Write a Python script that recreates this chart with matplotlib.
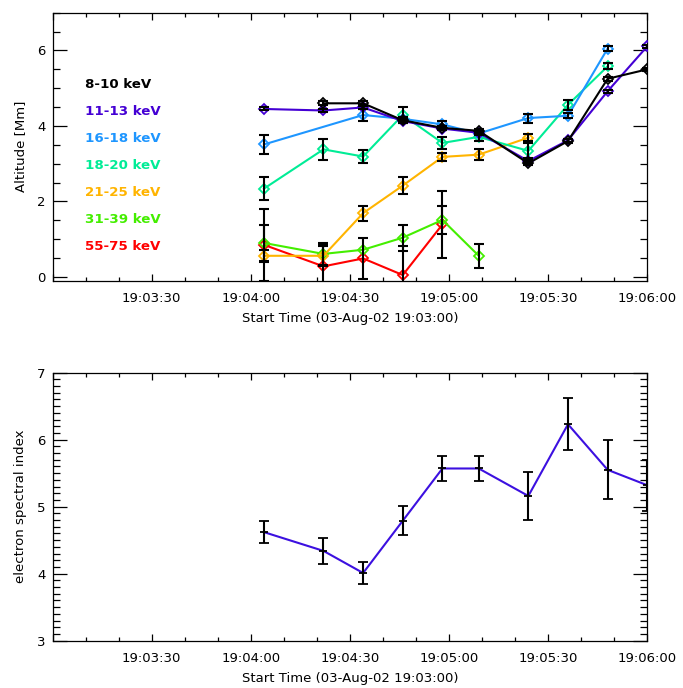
import numpy as np
import matplotlib
matplotlib.use('Agg')
import matplotlib.pyplot as plt
from matplotlib.ticker import MultipleLocator, FuncFormatter

nan = np.nan

# seconds after 19:03:00
t_sec = [64, 82, 94, 106, 118, 129, 144, 156, 168, 180]

bands = ['8-10 keV', '11-13 keV', '16-18 keV', '18-20 keV',
         '21-25 keV', '31-39 keV', '55-75 keV']
band_colors = ['#000000', '#4400d4', '#1e96ff', '#00ec96',
               '#ffb400', '#44ee00', '#ff0000']

h_8_10 = [nan, 4.60, 4.60, 4.15, 3.95, 3.87, 3.01, 3.60, 5.25, 5.50]
e_8_10 = [nan, 0.05, 0.05, 0.05, 0.05, 0.05, 0.05, 0.05, 0.05, 0.04]
h_11_13 = [4.45, 4.41, 4.49, 4.13, 3.93, 3.82, 3.07, 3.62, 4.92, 6.11]
e_11_13 = [0.04, 0.04, 0.04, 0.04, 0.04, 0.04, 0.04, 0.04, 0.04, 0.04]
h_16_18 = [3.51, nan, 4.29, 4.19, 4.04, 3.80, 4.21, 4.27, 6.05, nan]
e_16_18 = [0.24, nan, 0.15, 0.05, 0.10, 0.05, 0.12, 0.07, 0.06, nan]
h_18_20 = [2.34, 3.38, 3.19, 4.29, 3.55, 3.71, 3.34, 4.56, 5.58, nan]
e_18_20 = [0.31, 0.27, 0.18, 0.20, 0.15, 0.10, 0.20, 0.14, 0.08, nan]
h_21_25 = [0.56, 0.56, 1.69, 2.42, 3.18, 3.24, 3.69, nan, nan, nan]
e_21_25 = [0.16, 0.27, 0.20, 0.22, 0.10, 0.14, 0.10, nan, nan, nan]
h_31_39 = [0.90, 0.61, 0.72, 1.04, 1.51, 0.56, nan, nan, nan, nan]
e_31_39 = [0.48, 0.30, nan, 0.34, 0.38, 0.32, nan, nan, nan, nan]
h_55_75 = [0.85, 0.28, 0.49, 0.05, 1.39, nan, nan, nan, nan, nan]
e_55_75 = [0.95, 0.60, 0.54, 0.78, 0.88, nan, nan, nan, nan, nan]

spec_index = [4.62, 4.34, 4.01, 4.79, 5.57, 5.57, 5.16, 6.23, 5.55, 5.32]
spec_err = [0.16, 0.19, 0.16, 0.22, 0.19, 0.18, 0.36, 0.39, 0.44, 0.38]

XLABEL = 'Start Time (03-Aug-02 19:03:00)'


def time_fmt(x, pos):
    if x <= 0:
        return ''
    s = int(round(x))
    return f'19:{3 + s // 60:02d}:{s % 60:02d}'


def style_axis(ax, ymajor, yminor):
    ax.set_xlim(0, 180)
    ax.xaxis.set_major_locator(MultipleLocator(30))
    ax.xaxis.set_minor_locator(MultipleLocator(10))
    ax.xaxis.set_major_formatter(FuncFormatter(time_fmt))
    ax.yaxis.set_major_locator(MultipleLocator(ymajor))
    ax.yaxis.set_minor_locator(MultipleLocator(yminor))
    ax.tick_params(which='both', direction='in', top=True, right=True,
                   labelsize=9.5, width=0.9)
    ax.tick_params(axis='x', which='major', length=5, pad=8)
    ax.tick_params(axis='x', which='minor', length=3)
    ax.tick_params(axis='y', which='major', length=10, pad=5)
    ax.tick_params(axis='y', which='minor', length=5)
    for sp in ax.spines.values():
        sp.set_linewidth(0.9)
    ax.set_xlabel(XLABEL, fontsize=9.5, labelpad=5)


def plot_altitude(ax):
    heights = [h_8_10, h_11_13, h_16_18, h_18_20, h_21_25, h_31_39, h_55_75]
    errors = [e_8_10, e_11_13, e_16_18, e_18_20, e_21_25, e_31_39, e_55_75]
    t = np.array(t_sec, dtype=float)
    # draw lower energies last so they sit on top like the original
    for i in reversed(range(len(bands))):
        h = np.array(heights[i])
        e = np.array(errors[i])
        ok = ~np.isnan(h)
        ax.plot(t[ok], h[ok], '-', color=band_colors[i], lw=1.5,
                marker='D', ms=5, mfc='none', mew=1.3, zorder=3)
        ek = ok & ~np.isnan(e)
        ax.errorbar(t[ek], h[ek], yerr=e[ek], fmt='none', ecolor='k',
                    elinewidth=1.5, capsize=3.3, capthick=1.5, zorder=4)
    for i, name in enumerate(bands):
        ax.text(0.055, 0.734 - i * 0.101, name, transform=ax.transAxes,
                color=band_colors[i], fontsize=9.6, fontweight='bold',
                va='center', ha='left')
    ax.set_ylim(-0.1, 7.0)
    style_axis(ax, 2, 0.5)
    ax.set_ylabel('Altitude [Mm]', fontsize=9.5, labelpad=7)


def plot_index(ax):
    ax.plot(t_sec, spec_index, '-', color='#3c10e0', lw=1.5, zorder=3)
    ax.errorbar(t_sec, spec_index, yerr=spec_err, fmt='+', color='k',
                ms=6, mew=1.3, elinewidth=1.5, capsize=3.3, capthick=1.5,
                zorder=4)
    ax.set_ylim(3, 7)
    style_axis(ax, 1, 0.1)
    ax.set_ylabel('electron spectral index', fontsize=9.5, labelpad=7)


def main():
    fig = plt.figure(figsize=(6.83, 6.88), dpi=100)
    ax1 = fig.add_axes([0.0769, 0.592, 0.8708, 0.3895])
    ax2 = fig.add_axes([0.0769, 0.0688, 0.8708, 0.3895])
    plot_altitude(ax1)
    plot_index(ax2)
    fig.savefig('out.png', dpi=100)
    plt.close(fig)


if __name__ == '__main__':
    main()
